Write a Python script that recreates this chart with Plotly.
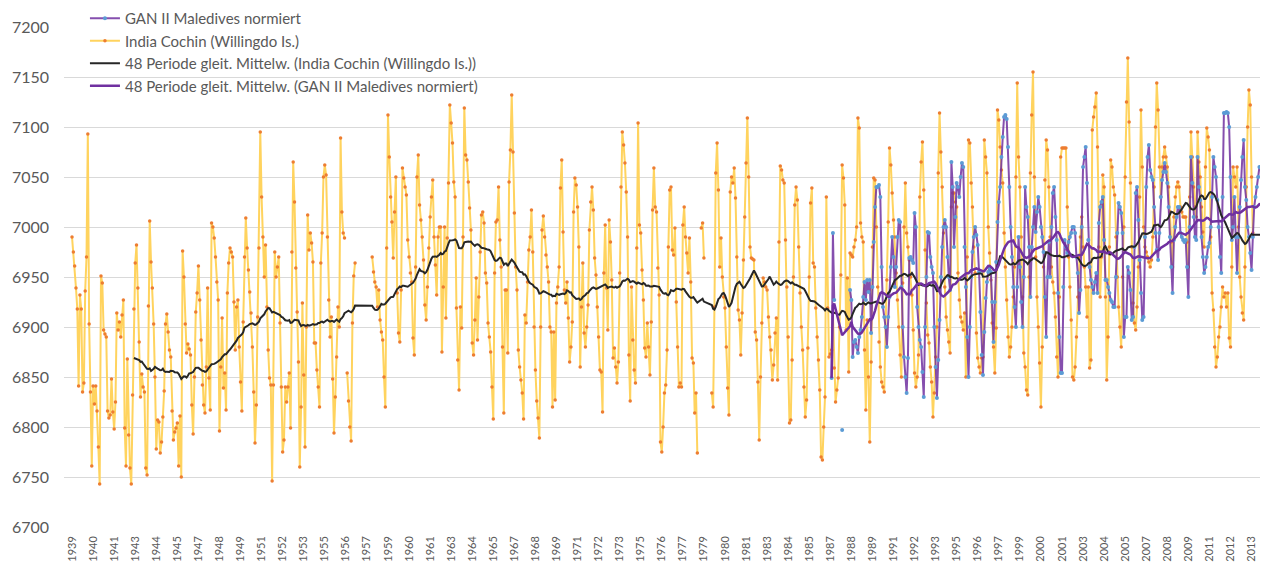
import numpy as np
import pandas as pd
import plotly.graph_objects as go

years = list(range(1939, 2015))

# India Cochin (Willingdo Is.) monthly values, one row per year (Jan..Dec)
cochin_monthly = [
    [6990, 6975, 6961, 6939, 6918, 6841, 6932, 6918, 6835, 6844, 6936, 6970],  # 1939
    [7093, 6903, 6835, 6761, 6841, 6823, 6841, 6816, 6780, 6743, 6951, 6944],  # 1940
    [6897, 6893, 6890, 6816, 6809, 6812, 6848, 6815, 6798, 6825, 6914, 6897],  # 1941
    [6905, 6890, 6912, 6927, 6799, 6761, 6868, 6792, 6759, 6743, 6832, 6918],  # 1942
    [6964, 6982, 6939, 6885, 6830, 6853, 6840, 6835, 6759, 6752, 6921, 7006],  # 1943
    [6965, 6939, 6903, 6850, 6778, 6807, 6805, 6774, 6785, 6810, 6836, 6903],  # 1944
    [6913, 6895, 6877, 6870, 6816, 6787, 6795, 6799, 6804, 6761, 6811, 6750],  # 1945
    [6976, 6950, 6903, 6874, 6883, 6878, 6872, 6822, 6793, 6850, 6915, 6934],  # 1946
    [6961, 6927, 6887, 6842, 6822, 6814, 6860, 6939, 6849, 6817, 7004, 7000],  # 1947
    [6989, 6970, 6945, 6927, 6796, 6860, 6909, 6839, 6854, 6817, 6934, 6964],  # 1948
    [6979, 6975, 6970, 6925, 6877, 6920, 6927, 6880, 6845, 6816, 6905, 6970],  # 1949
    [7009, 6979, 6957, 6935, 6914, 6880, 6835, 6784, 6822, 6910, 6979, 7095],  # 1950
    [7030, 6990, 6950, 6982, 6920, 6877, 6849, 6842, 6746, 6842, 6975, 6950],  # 1951
    [6960, 6970, 6904, 6840, 6775, 6787, 6840, 6825, 6840, 6854, 6799, 6975],  # 1952
    [7065, 7025, 6959, 6915, 6865, 6760, 6820, 6924, 6852, 6780, 6900, 7012],  # 1953
    [6977, 6994, 6984, 6965, 6884, 6884, 6857, 6840, 6820, 6964, 6994, 7050],  # 1954
    [7062, 7052, 6990, 6927, 6890, 6910, 6848, 6794, 6830, 6870, 6920, 6900],  # 1955
    [7089, 7015, 6994, 6989, None, 6854, 6826, 6800, 6786, 6904, 6951, 6964],  # 1956
    [None, None, None, None, None, None, None, None, None, None, None, None],  # 1957
    [6970, 6955, 6945, 6940, 6920, 6937, 6907, 6895, 6887, 6850, 6820, 6979],  # 1958
    [7112, 7070, 7030, 7005, 6969, 7015, 7050, 6934, 6894, 6885, 6937, 7059],  # 1959
    [7049, 7040, 7032, 6987, 6970, 6954, 6945, 6889, 6872, 6960, 7050, 7072],  # 1960
    [7022, 7007, 6990, 6967, 6922, 6907, 6940, 6979, 7010, 7030, 7047, 6990],  # 1961
    [6962, 6932, 6990, 7000, 7000, 6875, 6940, 7000, 6909, 6989, 7044, 7122],  # 1962
    [7104, 7084, 7045, 7030, 6919, 6867, 6837, 6920, 6899, 6990, 7119, 7072],  # 1963
    [7067, 7045, 7019, 6997, 6884, 6872, 6907, 6949, 6887, 6930, 6975, 7012],  # 1964
    [7015, 7004, 6954, 6944, 6904, 6890, 6875, 6840, 6808, 6954, 7005, 7007],  # 1965
    [7040, 6987, 6960, 6880, 6814, 6937, 6937, 6874, 7045, 7077, 7132, 7075],  # 1966
    [7014, 6960, 6937, 6877, 6860, 6847, 6834, 6808, 6912, 6904, 6945, 6977],  # 1967
    [6990, 7017, 6975, 6900, 6857, 6826, 6809, 6789, 6900, 6997, 7011, 6990],  # 1968
    [6972, 6960, 6945, 6900, 6895, 6820, 6895, 6827, 6924, 6940, 6960, 7039],  # 1969
    [7067, 6995, 6937, 6924, 6945, 6909, 6865, 6880, 6905, 7015, 7049, 7042],  # 1970
    [7020, 6980, 6860, 6920, 6964, 6894, 6880, 6900, 6922, 6997, 7025, 7040],  # 1971
    [7017, 6969, 6952, 6920, 6890, 6857, 6855, 6815, 6954, 7002, 6939, 6897],  # 1972
    [7007, 6985, 6947, 6869, 6879, 6860, 6844, 6865, 6954, 7040, 7095, 7082],  # 1973
    [7064, 7035, 6990, 6872, 6826, 6940, 6887, 6857, 6844, 6979, 7104, 7002],  # 1974
    [6994, 6957, 6927, 6879, 6870, 6904, 6880, 6852, 6905, 7017, 7059, 7020],  # 1975
    [7015, 6959, 6932, 6785, 6775, 6800, 6834, 6842, 6877, 6980, 7037, 7040],  # 1976
    [6977, 6972, 6999, 6925, 6880, 6840, 6844, 6840, 7002, 7020, 6990, 6974],  # 1977
    [6954, 6989, 6945, 6869, 6864, 6814, 6834, 6774, None, None, 6999, 7004],  # 1978
    [6969, None, None, None, None, None, 6834, 6820, 6920, 7054, 7084, 7037],  # 1979
    [6960, 6989, 6950, 6930, 6919, 6880, 6839, 6812, 7035, 7050, 7044, 7059],  # 1980
    [7029, 6970, 6917, 6907, 6872, 6914, 6967, 7010, 7064, 7109, 7050, 6980],  # 1981
    [6969, 6968, 6967, 6895, 6887, 6845, 6787, 6850, 6904, 6949, 6945, 6940],  # 1982
    [6937, 6910, 6890, 6877, 6847, 6862, 6894, 6909, 6847, 6985, 7061, 7057],  # 1983
    [7047, 7044, 6987, 6940, 6890, 6804, 6807, 6867, 6950, 7022, 7040, 7027],  # 1984
    [6980, 6934, 6900, 6877, 6840, 6810, 6827, 6879, 6950, 7024, 7039, 6964],  # 1985
    [6960, 6919, 6890, 6867, 6837, 6770, 6767, 6800, 6830, 7030, 6919, 6870],  # 1986
    [6873, 6877, 6914, 6859, 6825, 6837, 6849, 6900, 6952, 7062, 7049, 7022],  # 1987
    [6897, 6949, 6855, 6974, 6972, 6970, 6980, 6987, 7000, 7109, 7099, 7004],  # 1988
    [6990, 6985, 6877, 6817, 6907, 6850, 6785, 6865, 6980, 7049, 7047, 7000],  # 1989
    [6940, 6885, 6860, 6845, 6840, 6835, 6900, 6947, 7005, 7079, 7062, 7034],  # 1990
    [7007, 6990, 6954, 6927, 6900, 6872, 6850, 6944, 7000, 7044, 6994, 6980],  # 1991
    [6967, 6950, 6932, 6897, 6854, 6840, 6850, 6872, 7030, 7065, 7085, 7037],  # 1992
    [6977, 6924, 6892, 6884, 6860, 6845, 6810, 6834, 6870, 6900, 7054, 7114],  # 1993
    [7075, 7040, 6994, 6940, 6910, 6897, 6885, 6874, 7020, 7034, 7034, 7025],  # 1994
    [7020, 6954, 6927, 6910, 6905, 6897, 6914, 6850, 6970, 7087, 7084, 7044],  # 1995
    [7020, 6980, 6954, 6894, 6869, 6860, 6854, 6869, 6870, 7087, 7070, 7054],  # 1996
    [7000, 6974, 6947, 6904, 6880, 6854, 6899, 7117, 7107, 7080, 7057, 7044],  # 1997
    [6994, 6960, 6927, 6890, 6870, 6880, 6900, 6930, 6960, 7050, 7144, 7070],  # 1998
    [7040, 6990, 6930, 6874, 6860, 6837, 6832, 6950, 7054, 7112, 7155, 7050],  # 1999
    [6970, 6930, 6900, 6864, 6820, 6880, 6960, 7047, 7087, 7077, 7040, 6990],  # 2000
    [6960, 6945, 6934, 6910, 6870, 6850, 6930, 7070, 7079, 7079, 7079, 7079],  # 2001
    [7020, 6970, 6940, 6907, 6850, 6847, 6860, 6890, 6930, 6970, 6990, 7010],  # 2002
    [6980, 6960, 6940, 6910, 6940, 6859, 6867, 7097, 7110, 7120, 7134, 7080],  # 2003
    [6980, 6930, 6970, 7052, 7040, 6930, 6847, 6890, 6980, 7067, 7060, 7040],  # 2004
    [7032, 6990, 6950, 6920, 6900, 6880, 6950, 7000, 7050, 7125, 7169, 7105],  # 2005
    [7044, 6980, 6924, 6904, 6897, 6920, 6960, 7030, 7117, 7060, 7000, 6980],  # 2006
    [6975, 6970, 6965, 6960, 6967, 6990, 7040, 7100, 7144, 7117, 7060, 7030],  # 2007
    [7060, 7070, 7080, 7070, 7060, 7040, 7015, 6985, 6960, 7010, 7030, 7040],  # 2008
    [7045, 7040, 7020, 7015, 7010, 7010, 7010, 6985, 6960, 7030, 7095, 7070],  # 2009
    [7040, 7020, 7010, 7095, 7065, 7050, 7020, 6995, 6980, 7060, 7099, 7090],  # 2010
    [7077, 6990, 6934, 6917, 6880, 6860, 6870, 6890, 6900, 6920, 6940, 6930],  # 2011
    [6934, 6920, 6934, 6889, 6880, 6960, 7060, 7050, 7040, 7060, 7000, 6950],  # 2012
    [6930, 6914, 6907, 6960, 7040, 7100, 7137, 7122, 7050, 6994, None, None],  # 2013
    [None, None, None, None, None, None, None, None, None, None, None, None],  # 2014
]

# GAN II Maledives normiert, one row per year from 1987 (Jan..Dec)
gan_first_year = 1987
gan_monthly = [
    [None, 6849, 6994, 6927, None, None, None, None, None, 6797, None, None],  # 1987
    [None, None, None, 6937, 6927, 6870, 6885, 6887, 6880, 6874, 6890, 6897],  # 1988
    [6910, 6930, 6945, 6927, 6947, 6935, 6947, 6894, 6940, 6985, 7020, 7040],  # 1989
    [7040, 7042, 7030, 6960, 6920, 6910, 6900, 6880, 6910, 6930, 6960, 6990],  # 1990
    [6970, 6940, 6960, 6990, 7007, 7005, 6940, 6900, 6870, 6850, 6834, 6869],  # 1991
    [6969, 6970, 6967, 6964, 7014, 7000, 6920, 6900, 6887, 6880, 6855, 6830],  # 1992
    [6900, 6950, 6995, 6994, 6970, 6960, 6954, 6900, 6860, 6829, 6867, 6907],  # 1993
    [6950, 6980, 7000, 7007, 7000, 6970, 6950, 6937, 7065, 7040, 6980, 7010],  # 1994
    [7044, 7040, 7030, 7050, 7064, 7060, 6980, 6940, 6890, 6850, 6900, 6950],  # 1995
    [6975, 6990, 7000, 6992, 6982, 6955, 6915, 6872, 6852, 6895, 6929, 6945],  # 1996
    [6955, 6959, 6955, 6925, 6885, 6925, 6965, 7005, 7025, 7040, 7070, 7090],  # 1997
    [7110, 7112, 7108, 7080, 7040, 7000, 6970, 6940, 6920, 6900, 6940, 6990],  # 1998
    [6960, 6925, 6900, 6950, 7040, 7020, 7010, 6980, 6930, 6980, 7000, 7020],  # 1999
    [6995, 7015, 7030, 7020, 7000, 6990, 6975, 6930, 6890, 6950, 6985, 6950],  # 2000
    [7000, 7034, 7040, 7010, 6987, 6934, 6890, 6854, 6854, 6940, 6987, 6980],  # 2001
    [6974, 6985, 6990, 6994, 7000, 7000, 6994, 6970, 6954, 6914, 6937, 7000],  # 2002
    [7060, 7070, 7080, 7044, 6987, 6960, 6947, 6940, 6934, 6945, 6954, 6934],  # 2003
    [7004, 7020, 7025, 7030, 6987, 6947, 6947, 6940, 6934, 6927, 6925, 6920],  # 2004
    [6920, 6950, 6994, 7024, 7020, 7014, 6994, 6890, 6910, 6910, 6960, 6954],  # 2005
    [6937, 6907, 6910, 6980, 7034, 7040, 7007, 6967, 6934, 6907, 6910, 6990],  # 2006
    [7040, 7070, 7082, 7057, 7050, 7047, 7020, 6994, 6977, 6967, 6994, 7030],  # 2007
    [7047, 7055, 7064, 7055, 7044, 7020, 6990, 6960, 6934, 6987, 7000, 7010],  # 2008
    [7020, 7020, 6994, 6990, 6987, 6985, 6987, 6960, 6930, 7000, 7070, 7044],  # 2009
    [7010, 6990, 6987, 7070, 7040, 7027, 6990, 6970, 6954, 6960, 6970, 6980],  # 2010
    [6984, 7000, 7030, 7070, 7060, 7050, 7027, 7000, 6970, 6954, 7030, 7114],  # 2011
    [7114, 7115, 7114, 7100, 7050, 6987, 7000, 7030, 6990, 6954, 6990, 7020],  # 2012
    [7047, 7070, 7087, 7040, 7027, 7000, 6990, 6974, 6957, 6990, 7020, 7030],  # 2013
    [7040, 7050, 7060, 7060, 7054, 7020, 6990, 6959, 6960, None, None, None],  # 2014
]

ma_window = 48
y_ticks = [6700, 6750, 6800, 6850, 6900, 6950, 7000, 7050, 7100, 7150, 7200]
label_every = 16

# ---- monthly category axis ----
n_months = len(years) * 12
idx = np.arange(n_months)
month_year = [years[0] + i // 12 for i in idx]

cochin = pd.Series([v for row in cochin_monthly for v in row], dtype="float")
gan_flat = [None] * ((gan_first_year - years[0]) * 12) + [v for row in gan_monthly for v in row]
gan_flat += [None] * (n_months - len(gan_flat))
gan = pd.Series(gan_flat, dtype="float")

# 48-period moving averages over the available values
c_valid = cochin.dropna()
ma_cochin = c_valid.rolling(ma_window).mean().reindex(idx)
last_c = ma_cochin.last_valid_index()
ma_cochin.loc[last_c:] = ma_cochin.loc[last_c:].ffill()

g_valid = gan.dropna()
ma_gan = g_valid.rolling(ma_window, min_periods=1).mean().reindex(idx)

FONT = "Lato"
GREY = "#595959"

fig = go.Figure()
fig.add_trace(go.Scatter(
    x=idx, y=cochin, mode="lines+markers", name="India Cochin (Willingdo Is.)",
    line=dict(color="#FFD35E", width=2), marker=dict(color="#ED7D31", size=3.5),
    connectgaps=False, legendrank=2))
fig.add_trace(go.Scatter(
    x=idx, y=gan, mode="lines+markers", name="GAN II Maledives normiert",
    line=dict(color="rgba(112,48,160,0.85)", width=2), marker=dict(color="#5B9BD5", size=4),
    connectgaps=False, legendrank=1))
fig.add_trace(go.Scatter(
    x=idx, y=ma_cochin, mode="lines",
    name="48 Periode gleit. Mittelw. (India Cochin (Willingdo Is.))",
    line=dict(color="#262626", width=2), connectgaps=True, legendrank=3))
fig.add_trace(go.Scatter(
    x=idx, y=ma_gan, mode="lines",
    name="48 Periode gleit. Mittelw. (GAN II Maledives normiert)",
    line=dict(color="#7030A0", width=2.5), connectgaps=True, legendrank=4))

tick_idx = list(idx[::label_every])
tick_txt = [str(month_year[i]) for i in tick_idx]

# page has an 8 px body margin: figure is sized so the plot lands where the reference has it
fig.update_layout(
    width=1260, height=567,
    margin=dict(l=56, r=0, t=19, b=48, autoexpand=False),
    paper_bgcolor="white", plot_bgcolor="white",
    font=dict(family=FONT, color=GREY),
    showlegend=True,
    legend=dict(x=0.0174, y=1.05, xanchor="left", yanchor="top",
                bgcolor="rgba(0,0,0,0)", font=dict(size=15, color=GREY, family=FONT),
                itemwidth=30),
    xaxis=dict(range=[-6.1, 908.5], tickmode="array", tickvals=tick_idx, ticktext=tick_txt,
               tickangle=-90, tickfont=dict(size=11, color=GREY), showgrid=False,
               zeroline=False, showline=False, ticks="", ticklabelstandoff=6),
    yaxis=dict(range=[6700, 7200], tickmode="array", tickvals=y_ticks,
               tickfont=dict(size=16, color=GREY), gridcolor="#D9D9D9", gridwidth=1,
               zeroline=False, showline=False, ticks="", ticklabelstandoff=14),
)

fig.write_html("out.html")
